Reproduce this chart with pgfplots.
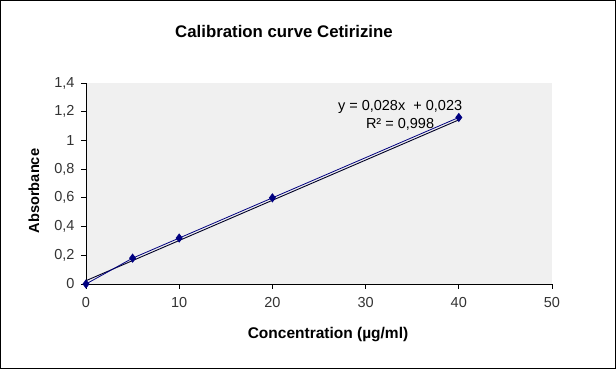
\documentclass[border=0pt]{standalone}
\usepackage{fontspec}
\setmainfont{Liberation Sans}
\usepackage{pgfplots}
\pgfplotsset{compat=1.18}
\definecolor{navy}{RGB}{0,0,128}
\definecolor{plotbg}{RGB}{240,240,240}
\begin{document}
\begin{tikzpicture}
\useasboundingbox (-86pt,-85pt) rectangle (530pt,284pt);
\draw[line width=1pt] (-85.5pt,-84.5pt) rectangle (529.5pt,283.5pt);
\begin{axis}[
  scale only axis,
  width=466pt, height=201pt,
  xmin=0, xmax=50, ymin=0, ymax=1.4,
  xtick={0,10,20,30,40,50},
  ytick={0,0.2,0.4,0.6,0.8,1,1.2,1.4},
  axis lines*=left,
  axis line style={black, line width=0.8pt},
  axis background/.style={fill=plotbg},
  tick style={black, line width=0.8pt},
  tick align=outside,
  major tick length=5pt,
  /pgf/number format/use comma,
  /pgf/number format/assume math mode=true,
  tick label style={font=\fontsize{14.5}{16}\selectfont, text=black!80},
  xticklabel style={yshift=-5pt},
  yticklabel style={xshift=-3pt},
  clip=false,
]
\addplot[black!85!blue, line width=0.9pt, no marks] coordinates {(0,0.023) (40,1.143)};
\addplot[navy, line width=0.8pt, mark=diamond*, mark size=4pt, mark options={fill=navy, draw=navy}] coordinates {
  (0,0) (5,0.18) (10,0.32) (20,0.60) (40,1.16)
};
\node[font=\fontsize{14.5}{18}\selectfont, align=center, inner sep=0pt] at (axis cs:33.7,1.177) {y = 0,028x \ + 0,023\\R² = 0,998};
\end{axis}
\node[font=\bfseries\fontsize{16.8}{19}\selectfont] at (198pt,253pt) {Calibration curve Cetirizine};
\node[font=\bfseries\fontsize{15.5}{18}\selectfont] at (242pt,-51pt) {Concentration (µg/ml)};
\node[font=\bfseries\fontsize{14.6}{17}\selectfont, rotate=90] at (-52pt,93pt) {Absorbance};
\end{tikzpicture}
\end{document}
